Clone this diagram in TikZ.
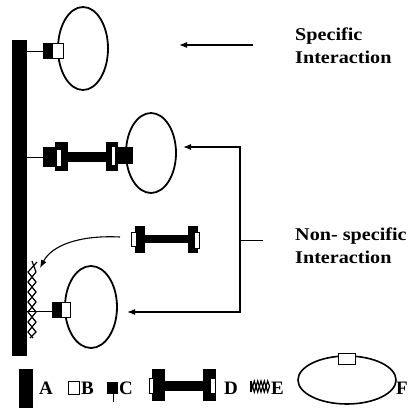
\documentclass[tikz,border=0pt]{standalone}
\usepackage{fontspec}
\setmainfont{Liberation Serif}
\newfontfamily\wideserif[FakeStretch=1.12]{Liberation Serif}
\usetikzlibrary{arrows.meta}

\begin{document}
\begin{tikzpicture}[x=1pt,y=-1pt,
  ring/.style={draw=black, line width=1.8pt},
  link/.style={draw=black, line width=1pt},
  flow/.style={draw=black, line width=1.1pt, -{Latex[length=8pt,width=6pt]}},
  ink/.style={fill=black},
  window/.style={fill=white, draw=black, line width=0.9pt},
  helix/.style={draw=black, line width=1.2pt, line join=miter},
  caption/.style={font=\wideserif\bfseries\fontsize{18}{22}\selectfont, anchor=base west, inner sep=0pt},
  key/.style={font=\bfseries\fontsize{19}{22}\selectfont, anchor=base west, inner sep=0pt}]

\useasboundingbox (0,0) rectangle (408,408);

% solid support (A)
\fill[ink] (12,40) rectangle (27,356);

% specifically bound ligand: linker + tag + particle
\draw[ring] (83,48.5) ellipse [x radius=25, y radius=41.5];
\draw[link] (27,51) -- (43,51);
\fill[ink] (43,43) rectangle (52,59);
\draw[window] (52,43.5) rectangle (63,58.5);
\draw[black, line width=0.9pt] (43,43.5) rectangle (63,58.5);

% particle held through a bridging molecule
\draw[ring] (151,153) ellipse [x radius=25, y radius=40];
\draw[link] (27,157) -- (43,157);
\fill[ink] (43,147) rectangle (68,167);
\fill[ink] (55,142) rectangle (68,171);
\fill[white] (57,150) rectangle (61,166);
\fill[ink] (68,152) rectangle (106,162);
\fill[ink] (106,142) rectangle (118,171);
\fill[ink] (106,147) rectangle (133,164);
\fill[white] (112,147) rectangle (115,165);

% free bridging molecule (D)
\fill[ink] (135,226) rectangle (145,253);
\fill[ink] (145,235) rectangle (188,243);
\fill[ink] (188,226) rectangle (198,253);
\draw[window] (131.5,232) rectangle (136.5,246);
\draw[window] (194,232) rectangle (199,248);

% blocking layer on the support (E)
\draw[helix] (37,262) -- (28,272) -- (36,282) -- (28,292) -- (36,302) -- (28,312) -- (36,322) -- (28,332) -- (33,338);
\draw[helix] (32,261) -- (36,272) -- (28,282) -- (36,292) -- (28,302) -- (36,312) -- (28,322) -- (36,332) -- (30,338);

% particle bound next to the blocking layer
\draw[ring] (91,307) ellipse [x radius=26, y radius=41];
\draw[link] (27,311) -- (52,311);
\fill[ink] (52,302) rectangle (61,318);
\draw[window] (61,302.5) rectangle (70,317.5);
\draw[black, line width=0.9pt] (52,302.5) rectangle (70,317.5);

% arrows
\coordinate (specTail) at (253,45);
\coordinate (specTip) at (179,45);
\draw[flow] (specTail) -- (specTip);

\coordinate (nsHub) at (263,240);
\coordinate (nsJoin) at (240,240);
\coordinate (nsUpper) at (183,147);
\coordinate (nsLower) at (127,312);
\draw[link] (nsHub) -- (nsJoin);
\draw[flow] (nsJoin) |- (nsUpper);
\draw[flow] (nsJoin) |- (nsLower);

\coordinate (freeD) at (120,237);
\coordinate (surf) at (40,268);
\draw[flow] (freeD) .. controls (80,235) and (52,245) .. (surf);

% captions
\node[caption] (spec1) at (295,40) {Specific};
\node[caption] (spec2) at (295,63) {Interaction};
\node[caption] (nons1) at (295,240) {Non- specific};
\node[caption] (nons2) at (295,263) {Interaction};

% legend
\fill[ink] (19,369) rectangle (33,408);
\node[key] (keyA) at (39,394) {A};
\draw[window] (68.5,381.5) rectangle (79,394.5);
\node[key] (keyB) at (81,394) {B};
\fill[ink] (107,381.5) rectangle (118,394);
\draw[link, line width=0.6pt] (113,394) -- (113,402);
\node[key] (keyC) at (119,394) {C};

\fill[ink] (152,369) rectangle (165,401);
\fill[ink] (165,381) rectangle (203,391);
\fill[ink] (203,369) rectangle (216,401);
\draw[window] (149,378) rectangle (153.5,393);
\draw[window] (210,378) rectangle (215,393);
\node[key] (keyD) at (224,394) {D};

\draw[helix] (251,381) -- (251,392);
\draw[helix] (251,381) -- (254.3,392) -- (257.7,381) -- (261,392) -- (264.3,381) -- (267.7,392) -- (269.5,386);
\draw[helix] (251,392) -- (254.3,381) -- (257.7,392) -- (261,381) -- (264.3,392) -- (267.7,381) -- (269.5,386);
\node[key] (keyE) at (271,394) {E};

\draw[ring, line width=1.6pt] (347,380) ellipse [x radius=49, y radius=24];
\draw[window] (338,353) rectangle (355,364);
\node[key] (keyF) at (396,394) {F};
\end{tikzpicture}
\end{document}
